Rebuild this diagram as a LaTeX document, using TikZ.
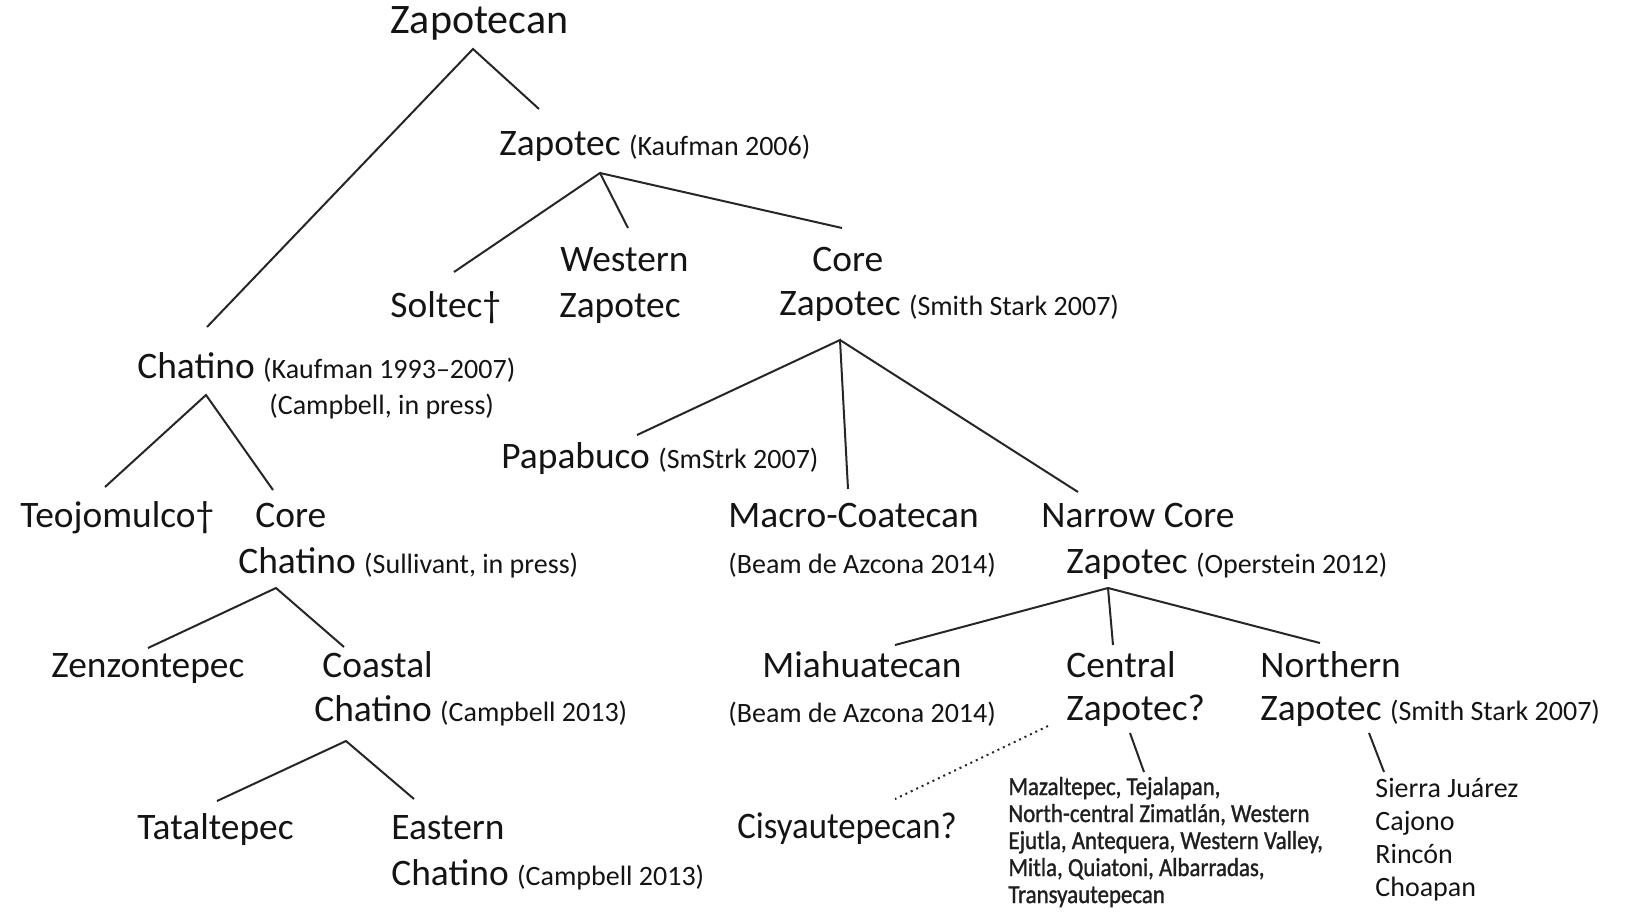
\documentclass[tikz,border=0pt]{standalone}
\usepackage{fontspec}
\setmainfont{Carlito}
\newfontfamily\listfont[FakeStretch=0.88,FakeBold=1.2]{Carlito}
\newfontfamily\narrowfont[FakeStretch=0.93]{Carlito}
\newcommand\mainsz{\fontsize{18.7}{22}\selectfont}
\newcommand\smallref[1]{{\fontsize{14}{16}\selectfont #1}}
\newcommand\listsz{\listfont\fontsize{13}{15}\selectfont}
\newcommand\listbsz{\fontsize{14}{16}\selectfont}
\begin{document}
\begin{tikzpicture}[x=0.5pt,y=-0.5pt,
  lbl/.style={anchor=base west, inner sep=0pt, font=\mainsz, text=black!92},
  sref/.style={anchor=base west, inner sep=0pt, font=\fontsize{14}{16}\selectfont, text=black!92},
  lst/.style={anchor=base west, inner sep=0pt, font=\listsz, text=black!88},
  lstb/.style={anchor=base west, inner sep=0pt, font=\listbsz, text=black!92},
  edge/.style={line width=1pt, draw=black!85},
  dotedge/.style={line width=1pt, draw=black!85, dotted}]
\useasboundingbox (0,0) rectangle (1626,911);
% labels
\node[lbl, font=\fontsize{21}{24}\selectfont] (zapotecan) at (390,33) {Zapotecan};
\node[lbl] (zapotec) at (499,155) {Zapotec \smallref{(Kaufman 2006)}};
\node[lbl] (soltec) at (390,317) {Soltec†};
\node[lbl] (western1) at (560,271) {Western};
\node[lbl] (western2) at (559,317) {Zapotec};
\node[lbl] (core1) at (812,271) {Core};
\node[lbl] (core2) at (779,315) {Zapotec \smallref{(Smith Stark 2007)}};
\node[lbl] (chatino1) at (137,378) {Chatino \smallref{(Kaufman 1993–2007)}};
\node[sref] (chatino2) at (269,414) {(Campbell, in press)};
\node[lbl] (papabuco) at (501,468) {Papabuco \smallref{(SmStrk 2007)}};
\node[lbl] (teojomulco) at (20,527) {Teojomulco†};
\node[lbl] (corech1) at (255,527) {Core};
\node[lbl] (corech2) at (238,573) {Chatino \smallref{(Sullivant, in press)}};
\node[lbl] (macro1) at (728,527) {Macro-Coatecan};
\node[sref] (macro2) at (728,573) {(Beam de Azcona 2014)};
\node[lbl] (narrow1) at (1041,527) {Narrow Core};
\node[lbl] (narrow2) at (1066,573) {Zapotec \smallref{(Operstein 2012)}};
\node[lbl] (zenzontepec) at (51,677) {Zenzontepec};
\node[lbl] (coastal1) at (322,677) {Coastal};
\node[lbl] (coastal2) at (314,721) {Chatino \smallref{(Campbell 2013)}};
\node[lbl] (miahua1) at (762,677) {Miahuatecan};
\node[sref] (miahua2) at (728,722) {(Beam de Azcona 2014)};
\node[lbl] (central1) at (1066,677) {Central};
\node[lbl] (central2) at (1066,720) {Zapotec?};
\node[lbl] (northern1) at (1260,677) {Northern};
\node[lbl] (northern2) at (1260,720) {Zapotec \smallref{(Smith Stark 2007)}};
\node[lbl] (tataltepec) at (137,839) {Tataltepec};
\node[lbl] (eastern1) at (391,839) {Eastern};
\node[lbl] (eastern2) at (391,885) {Chatino \smallref{(Campbell 2013)}};
\node[lbl, font=\narrowfont\mainsz] (cisy) at (737,838) {Cisyautepecan?};
\node[lst] (cl1) at (1008,795) {Mazaltepec, Tejalapan,};
\node[lst] (cl2) at (1008,822) {North-central Zimatlán, Western};
\node[lst] (cl3) at (1008,849) {Ejutla, Antequera, Western Valley,};
\node[lst] (cl4) at (1008,876) {Mitla, Quiatoni, Albarradas,};
\node[lst] (cl5) at (1008,903) {Transyautepecan};
\node[lstb] (nl1) at (1375,797) {Sierra Juárez};
\node[lstb] (nl2) at (1375,830) {Cajono};
\node[lstb] (nl3) at (1375,863) {Rincón};
\node[lstb] (nl4) at (1375,896) {Choapan};
% connector end points
\coordinate (zapotecan-b) at (473,49);
\coordinate (chatino-t) at (207,327);
\coordinate (zapotec-t) at (539,109);
\coordinate (zapotec-b) at (600,173);
\coordinate (soltec-t) at (454,272);
\coordinate (western-t) at (628,228);
\coordinate (core-t) at (842,228);
\coordinate (core-b) at (840,340);
\coordinate (papabuco-t) at (637,435);
\coordinate (macro-t) at (848,489);
\coordinate (narrow-t) at (1078,492);
\coordinate (chatino-b) at (206,395);
\coordinate (teojomulco-t) at (105,487);
\coordinate (corech-t) at (273,490);
\coordinate (corech-b) at (276,588);
\coordinate (zenzontepec-t) at (148,648);
\coordinate (coastal-t) at (344,647);
\coordinate (coastal-b) at (346,741);
\coordinate (tataltepec-t) at (217,801);
\coordinate (eastern-t) at (414,799);
\coordinate (narrow-b) at (1108,588);
\coordinate (miahua-t) at (895,645);
\coordinate (central-t) at (1113,645);
\coordinate (northern-t) at (1320,643);
\coordinate (central-bl) at (1048,726);
\coordinate (cisy-t) at (895,799);
\coordinate (central-b) at (1130,733);
\coordinate (clist-t) at (1144,772);
\coordinate (northern-b) at (1369,733);
\coordinate (nlist-t) at (1384,772);
% connectors
\draw[edge] (chatino-t) -- (zapotecan-b) -- (zapotec-t);
\draw[edge] (soltec-t) -- (zapotec-b) -- (western-t);
\draw[edge] (zapotec-b) -- (core-t);
\draw[edge] (papabuco-t) -- (core-b) -- (macro-t);
\draw[edge] (core-b) -- (narrow-t);
\draw[edge] (teojomulco-t) -- (chatino-b) -- (corech-t);
\draw[edge] (zenzontepec-t) -- (corech-b) -- (coastal-t);
\draw[edge] (tataltepec-t) -- (coastal-b) -- (eastern-t);
\draw[edge] (miahua-t) -- (narrow-b) -- (northern-t);
\draw[edge] (narrow-b) -- (central-t);
\draw[dotedge] (central-bl) -- (cisy-t);
\draw[edge] (central-b) -- (clist-t);
\draw[edge] (northern-b) -- (nlist-t);
\end{tikzpicture}
\end{document}
